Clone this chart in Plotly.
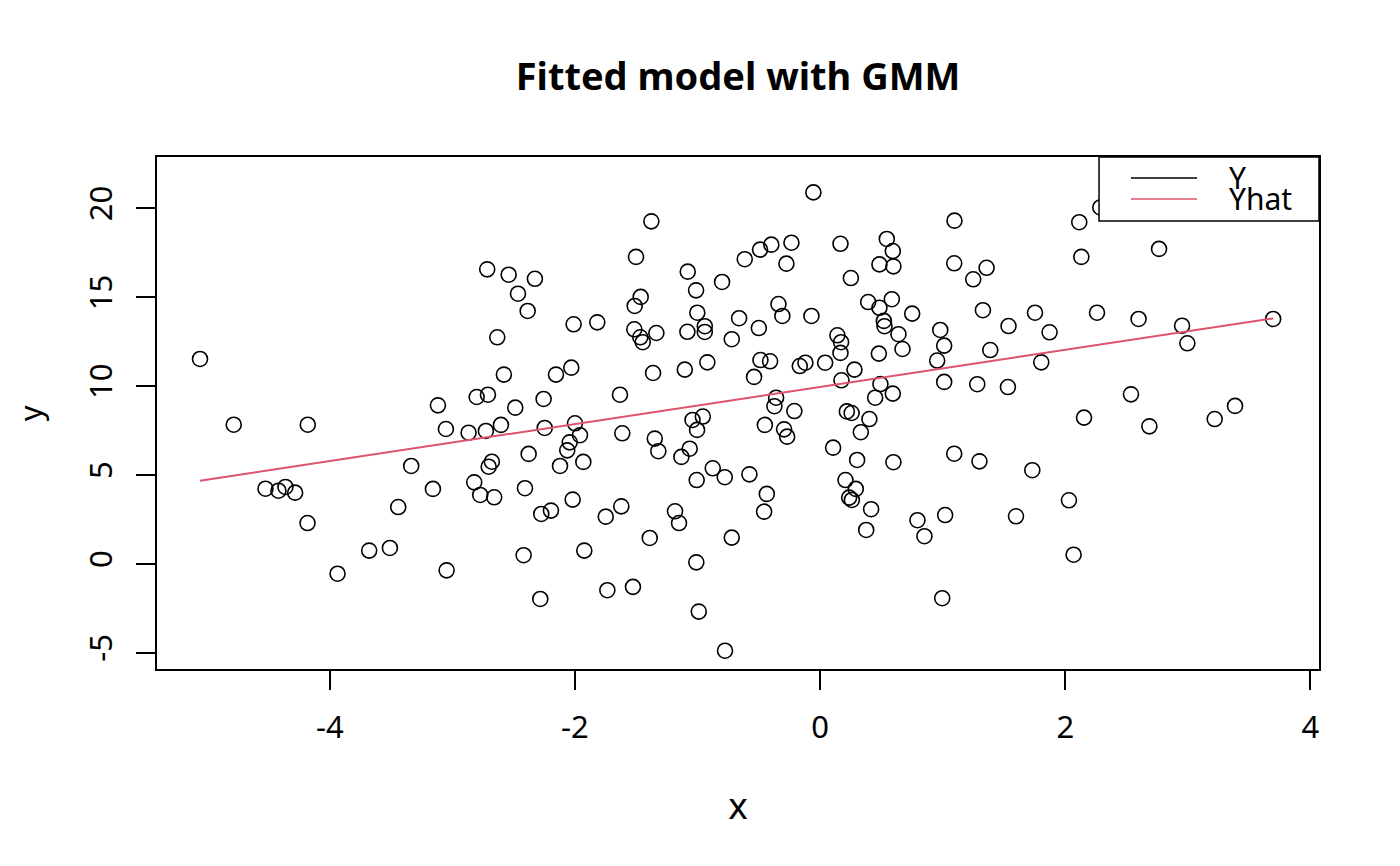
import plotly.graph_objects as go

x = [-5.059, -4.784, -4.180, -2.716, -2.541, -2.327, -2.465, -2.386, -2.634, -2.580,
     -2.155, -2.802, -2.710, -3.118, -2.487, -2.256, -3.053, -2.868, -2.727, -2.604,
     -2.247, -2.378, -3.336, -2.678, -2.704, -2.122, -4.525, -4.419, -4.362, -4.283,
     -3.159, -2.822, -2.773, -2.659, -2.408, -3.442, -4.182, -2.275, -2.196, -3.679,
     -3.510, -3.937, -3.047, -2.419, -2.283,
     -0.055, -1.377, -1.502, -1.080, -1.012, -0.800, -0.615, -0.490, -0.398, -0.234,
     -0.275, 0.166, 0.544, 0.593, 0.484, 0.598, 0.251, -1.464, -1.513, -2.011,
     -1.818, -1.516, -1.467, -1.447, -1.336, -1.083, -1.002, -0.941, -0.941, -0.661,
     -0.500, -0.721, -0.340, -0.308, -0.071, 0.392, 0.484, 0.585, 0.751, 0.520,
     0.525, 0.639, 0.672, 0.141, 0.171, 0.166, 0.479, 0.980, 1.012, 0.955,
     1.012, -2.030, -1.363, -1.104, -0.920, -0.487, -0.408, -0.539, -0.166, -0.120,
     0.041, 0.280, 0.174, 0.492, 0.449, 0.593, -1.633, -0.359, -0.373, -0.210,
     0.218, 0.257, 0.402, -1.041, -0.957, -2.000, -1.959, -2.043, -2.063, -1.932,
     -1.614, -1.349, -1.320, -1.004, -1.064, -1.132, -0.876, -0.778, -1.007, -0.577,
     -0.451, -0.294, -0.269, 0.332, 0.106, 0.302, 0.598, 0.207, 0.291, 0.237,
     0.259, 0.416, 0.376, 0.794, 0.851, 1.020, 0.996, -2.019, -1.749, -1.622,
     -1.184, -1.151, -1.390, -0.721, -0.435, -0.457, -1.924, -1.010, -1.736, -1.527,
     -0.990, -0.776,
     1.096, 2.114, 2.286, 2.131, 2.765, 1.094, 1.358, 1.249, 1.328, 1.537,
     1.753, 1.872, 2.259, 2.598, 2.953, 2.996, 3.696, 1.388, 1.804, 1.282,
     1.532, 2.536, 3.385, 2.153, 2.686, 3.219, 1.094, 1.300, 1.731, 2.030,
     1.598, 2.068]
y = [11.52, 7.82, 7.82, 16.56, 16.26, 16.03, 15.19, 14.22, 12.74, 10.64,
     10.64, 9.38, 9.51, 8.91, 8.78, 9.27, 7.58, 7.37, 7.47, 7.81,
     7.64, 6.18, 5.50, 5.74, 5.46, 5.50, 4.22, 4.11, 4.32, 4.00,
     4.21, 4.58, 3.87, 3.74, 4.25, 3.19, 2.29, 2.80, 2.99, 0.74,
     0.89, -0.56, -0.37, 0.48, -1.98,
     20.89, 19.26, 17.26, 16.43, 15.38, 15.85, 17.13, 17.67, 17.95, 18.06,
     16.88, 18.00, 18.27, 17.59, 16.84, 16.73, 16.07, 15.01, 14.50, 13.47,
     13.58, 13.19, 12.74, 12.46, 12.98, 13.05, 14.12, 13.36, 13.04, 13.81,
     13.26, 12.63, 14.61, 13.94, 13.94, 14.72, 14.40, 14.88, 14.07, 13.66,
     13.36, 12.91, 12.08, 12.85, 12.46, 11.86, 11.82, 13.15, 12.27, 11.43,
     10.23, 11.03, 10.73, 10.92, 11.33, 11.46, 11.39, 10.51, 11.12, 11.31,
     11.31, 10.92, 10.32, 10.11, 9.34, 9.57, 9.51, 9.34, 8.86, 8.59,
     8.57, 8.48, 8.14, 8.09, 8.28, 7.90, 7.23, 6.83, 6.38, 5.73,
     7.34, 7.04, 6.33, 7.53, 6.47, 6.01, 5.37, 4.87, 4.71, 5.03,
     7.81, 7.56, 7.15, 7.40, 6.53, 5.84, 5.71, 4.71, 4.21, 3.72,
     3.59, 3.07, 1.90, 2.45, 1.55, 2.74, -1.94, 3.61, 2.65, 3.23,
     2.95, 2.29, 1.45, 1.47, 3.93, 2.93, 0.74, 0.08, -1.49, -1.30,
     -2.69, -4.89,
     19.30, 19.21, 20.04, 17.26, 17.71, 16.90, 16.65, 16.00, 14.26, 13.37,
     14.12, 13.02, 14.12, 13.77, 13.39, 12.40, 13.77, 12.02, 11.33, 10.10,
     9.94, 9.53, 8.88, 8.22, 7.73, 8.14, 6.19, 5.76, 5.26, 3.57,
     2.67, 0.51]

# recta ajustada (extremos)
x_hat = [-5.059, 3.696]
y_hat = [4.67, 13.80]

x_ticks = [-4, -2, 0, 2, 4]
y_ticks = [-5, 0, 5, 10, 15, 20]
leyenda = ["Y", "Yhat"]

COLOR_Y = 'black'
COLOR_YHAT = '#DF536B'
FUENTE = 'Noto Sans'

fig = go.Figure()

fig.add_trace(go.Scatter(
    x=x, y=y,
    mode='markers',
    marker=dict(symbol='circle-open', size=15, color=COLOR_Y, line=dict(width=1.6)),
    showlegend=False
))

fig.add_trace(go.Scatter(
    x=x_hat, y=y_hat,
    mode='lines',
    line=dict(color=COLOR_YHAT, width=2),
    showlegend=False
))

# leyenda dibujada a mano (caja estilo R)
fig.add_shape(type='rect', xref='paper', yref='paper',
              x0=0.8107, x1=1.0, y0=0.875, y1=1.0,
              fillcolor='white', line=dict(color='black', width=1.5), layer='above')
for i, (nombre, color) in enumerate(zip(leyenda, [COLOR_Y, COLOR_YHAT])):
    yy = 0.959 - i * 0.041
    fig.add_shape(type='line', xref='paper', yref='paper',
                  x0=0.8382, x1=0.8950, y0=yy, y1=yy,
                  line=dict(color=color, width=1.5), layer='above')
    fig.add_annotation(text=nombre, xref='paper', yref='paper',
                       x=0.9208, y=yy, xanchor='left', yanchor='middle',
                       showarrow=False, font=dict(family=FUENTE, size=30, color='black'))

# titulo del eje y como anotacion (para poder ubicarlo igual que en R)
fig.add_annotation(text='y', xref='paper', yref='paper',
                   x=-0.109, y=0.5, xanchor='center', yanchor='middle',
                   textangle=-90, showarrow=False,
                   font=dict(family=FUENTE, size=31, color='black'))

# el body del html tiene 8px de margen: se compensa en los margenes
fig.update_layout(
    width=1400, height=866,
    margin=dict(l=149, r=89, t=149, b=205),
    paper_bgcolor='white', plot_bgcolor='white',
    font=dict(family=FUENTE, size=31, color='black'),
    title=dict(text='Fitted model with GMM', x=0.5, xref='paper',
               y=1 - 69 / 866, yref='container', yanchor='middle',
               font=dict(family=FUENTE, size=38, weight='bold', color='black')),
)

fig.update_xaxes(
    range=[-5.41, 4.07], tickvals=x_ticks, ticktext=[str(t) for t in x_ticks],
    showgrid=False, zeroline=False, automargin=False,
    showline=True, mirror=True, linecolor='black', linewidth=1.5,
    ticks='outside', ticklen=19, tickwidth=1.5, tickcolor='black',
    ticklabelstandoff=11,
    title=dict(text='x', standoff=47)
)
fig.update_yaxes(
    range=[-5.92, 22.88], tickvals=y_ticks, ticktext=[str(t) for t in y_ticks],
    showgrid=False, zeroline=False, automargin=False,
    showline=True, mirror=True, linecolor='black', linewidth=1.5,
    ticks='outside', ticklen=19, tickwidth=1.5, tickcolor='black',
    tickangle=-90, ticklabelstandoff=12
)

fig.write_html("out.html")
